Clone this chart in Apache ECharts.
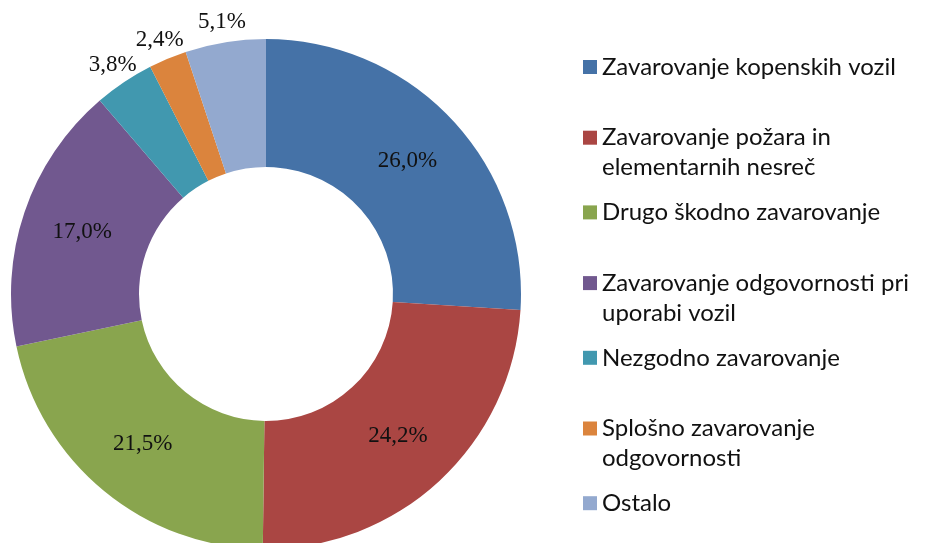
<!DOCTYPE html>
<html>
<head>
<meta charset="utf-8">
<script src="https://cdn.jsdelivr.net/npm/echarts@6/dist/echarts.min.js"></script>
<style>
  html, body { margin: 0; padding: 0; background: #fff; }
  #chart { width: 925px; height: 543px; }
</style>
</head>
<body>
<div id="chart"></div>
<script>
// kategorije in deleži (%)
const categories = [
  "Zavarovanje kopenskih vozil",
  "Zavarovanje požara in elementarnih nesreč",
  "Drugo škodno zavarovanje",
  "Zavarovanje odgovornosti pri uporabi vozil",
  "Nezgodno zavarovanje",
  "Splošno zavarovanje odgovornosti",
  "Ostalo"
];
const shares = [26.0, 24.2, 21.5, 17.0, 3.8, 2.4, 5.1];
// kako se imena prelomijo v legendi
const legendLines = [
  ["Zavarovanje kopenskih vozil"],
  ["Zavarovanje požara in", "elementarnih nesreč"],
  ["Drugo škodno zavarovanje"],
  ["Zavarovanje odgovornosti pri", "uporabi vozil"],
  ["Nezgodno zavarovanje"],
  ["Splošno zavarovanje", "odgovornosti"],
  ["Ostalo"]
];
const colors = ["#4572A7", "#AA4643", "#89A54E", "#71588F", "#4198AF", "#DB843D", "#93A9CF"];

const chart = echarts.init(document.getElementById("chart"));

const fmt = (v) => v.toFixed(1).replace(".", ",") + "%";
const labelFont = {
  fontFamily: "Liberation Serif",
  fontSize: 23,
  color: "#111",
};

// ena legenda na vnos, kot v Excelu; ikona poravnana s prvo vrstico
const legends = categories.map((name, i) => {
  const lines = legendLines[i];
  const multi = lines.length > 1;
  const iconY = 62 + i * 72.7;
  return {
    orient: "vertical",
    left: 578,
    top: multi ? iconY - 47 : iconY - 15,
    data: [name],
    icon: "rect",
    itemWidth: 14,
    itemHeight: 14,
    selectedMode: false,
    // prazna vrstica zgoraj, da je prva vrstica v sredini ob ikoni
    formatter: () => (multi ? "\n" : "") + lines.join("\n"),
    textStyle: {
      fontFamily: "Lato",
      fontSize: 24,
      color: "#111",
      lineHeight: 30,
    },
  };
});

const option = {
  color: colors,
  animation: false,
  legend: legends,
  series: [
    {
      type: "pie",
      center: [266, 294],
      radius: [127, 255],
      startAngle: 90,
      clockwise: true,
      avoidLabelOverlap: false,
      labelLine: { show: false },
      data: categories.map((name, i) => ({
        name: name,
        value: shares[i],
        label: {
          show: shares[i] >= 10,
          position: "inside",
          formatter: (p) => fmt(p.value),
          ...labelFont,
        },
      })),
    },
    {
      // nevidni obroč samo za zunanje oznake majhnih deležev
      type: "pie",
      center: [266, 294],
      radius: [255, 290],
      startAngle: 90,
      clockwise: true,
      silent: true,
      avoidLabelOverlap: false,
      labelLine: { show: false },
      itemStyle: { color: "rgba(0,0,0,0)" },
      data: categories.map((name, i) => ({
        name: name,
        value: shares[i],
        label: {
          show: shares[i] < 10,
          position: "inside",
          formatter: (p) => fmt(p.value),
          ...labelFont,
        },
      })),
    },
  ],
};

chart.setOption(option);
</script>
</body>
</html>
